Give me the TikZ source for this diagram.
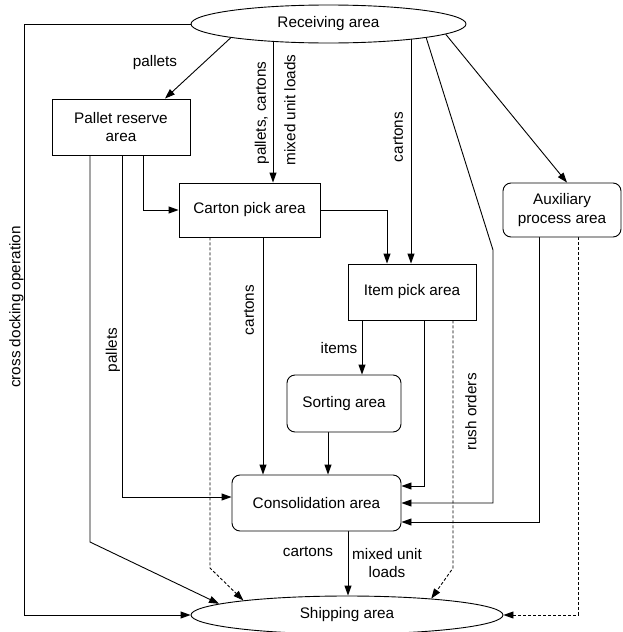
\documentclass[tikz,border=0pt]{standalone}
\usepackage{fontspec}
\setmainfont{Liberation Sans}
\usetikzlibrary{arrows.meta,shapes.geometric,backgrounds}
\begin{document}
\begin{tikzpicture}[x=1pt,y=-1pt,
  font=\fontsize{15.3}{18.5}\selectfont,
  box/.style={draw, fill=white, rectangle, inner sep=0pt, align=center, line width=0.9pt},
  rbox/.style={box, rounded corners=8pt},
  oval/.style={draw, fill=white, ellipse, inner sep=0pt, line width=0.9pt},
  arr/.style={-{Triangle[length=10pt,width=7pt]}, line width=0.9pt},
  dsh/.style={arr, dash pattern=on 3pt off 2pt},
  lbl/.style={inner sep=0pt},
  vlbl/.style={lbl, rotate=90}]
\useasboundingbox (0,0) rectangle (622,632);

% nodes
\node[oval, minimum width=275pt, minimum height=38pt] (rec) at (328.5,24) {Receiving area};
\node[oval, minimum width=312pt, minimum height=38pt] (ship) at (347,615) {Shipping area};
\node[box, minimum width=138pt, minimum height=56pt] (pallet) at (121,127) {Pallet reserve\\area};
\node[box, minimum width=141pt, minimum height=54pt] (carton) at (249.5,210) {Carton pick area};
\node[rbox, minimum width=118pt, minimum height=54pt] (aux) at (562,210) {Auxiliary\\process area};
\node[box, minimum width=128pt, minimum height=56pt] (item) at (412,292) {Item pick area};
\node[rbox, minimum width=114pt, minimum height=57pt] (sort) at (344,403.5) {Sorting area};
\node[rbox, minimum width=169pt, minimum height=56pt] (cons) at (316.5,503) {Consolidation area};

% connectors
\begin{pgfonlayer}{background}
\draw[arr] (rec.188) -- ([xshift=44pt]pallet.north);
\draw[arr] ([xshift=-55.5pt]rec.center) -- ([xshift=23.5pt]carton.north);
\draw[arr] ([xshift=82.5pt]rec.center) -- ([xshift=-1pt]item.north);
\draw[arr] (rec.-8) -- (493,250) |- (cons.east);
\draw[arr] (rec.-5.4) -- ([xshift=5pt]aux.north);
\draw[arr] (rec.west) -| (24,615) -- (ship.west);
\draw[arr] ([xshift=22pt]pallet.south) |- (carton.west);
\draw[arr] ([xshift=1pt]pallet.south) |- ([yshift=6pt]cons.west);
\draw[arr] ([xshift=-31pt]pallet.south) -- (90,542) -- (ship.175.9);
\draw[arr] (carton.east) -| ([xshift=-25pt]item.north);
\draw[arr] ([xshift=13.5pt]carton.south) -- ([xshift=-53.5pt]cons.north);
\draw[dsh] ([xshift=-39.5pt]carton.south) -- (210,568) -- (ship.172.2);
\draw[arr] ([xshift=-50pt]item.south) -- ([xshift=18pt]sort.north);
\draw[arr] ([xshift=12pt]item.south) |- ([yshift=17pt]cons.east);
\draw[dsh] ([xshift=41pt]item.south) -- (453,568) -- (ship.11.9);
\draw[arr] ([xshift=-16pt]sort.south) -- ([xshift=11.5pt]cons.north);
\draw[arr] ([xshift=-23pt]aux.south) |- ([yshift=-19pt]cons.east);
\draw[dsh] ([xshift=16pt]aux.south) |- (ship.east);
\draw[arr] ([xshift=31.5pt]cons.south) -- ([xshift=1pt]ship.north);
\end{pgfonlayer}

% labels
\node[lbl] (l1) at (155,63) {pallets};
\node[vlbl] (l2) at (262,113) {pallets, cartons};
\node[vlbl] (l3) at (290,110) {mixed unit loads};
\node[vlbl] (l4) at (398,137) {cartons};
\node[vlbl] (l5) at (16.5,307) {cross docking operation};
\node[vlbl] (l6) at (113,350) {pallets};
\node[vlbl] (l7) at (249,310) {cartons};
\node[lbl] (l8) at (339,348) {items};
\node[vlbl] (l9) at (471,412) {rush orders};
\node[lbl] (l10) at (308,552) {cartons};
\node[lbl, align=center] (l11) at (387,563) {mixed unit\\loads};
\end{tikzpicture}
\end{document}
